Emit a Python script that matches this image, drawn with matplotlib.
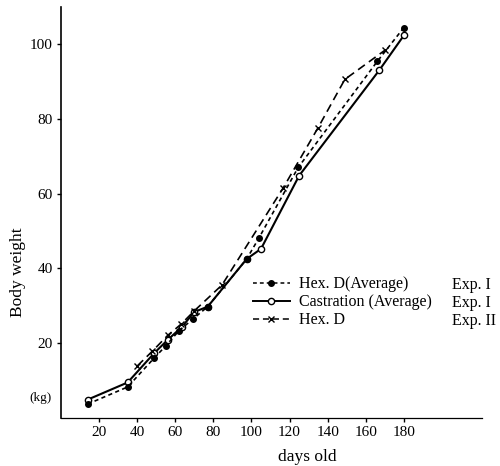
import matplotlib
matplotlib.use('Agg')
import matplotlib.pyplot as plt
from matplotlib.lines import Line2D

plt.rcParams['font.family'] = ['Liberation Serif', 'DejaVu Serif']

# Hex. D (Average)  Exp. I
hexd_days   = [14, 35, 49, 55, 62, 69.5, 77, 97.5, 104, 124.5, 166, 180]
hexd_weight = [3.6, 8.2, 16.0, 19.2, 23.3, 26.5, 29.7, 42.5, 48.2, 67.0, 95.4, 104.5]

# Castration (Average)  Exp. I
cast_days   = [14, 35, 49, 56, 63.5, 70, 77, 97.5, 105, 125, 167, 180]
cast_weight = [4.8, 9.4, 17.3, 20.8, 24.3, 28.3, 29.7, 42.5, 45.2, 64.8, 93.0, 102.4]

# Hex. D  Exp. II
exp2_days   = [40, 48, 56, 63, 70, 84.5, 116.5, 135, 149, 170]
exp2_weight = [13.8, 17.8, 22.0, 25.0, 28.6, 35.5, 61.4, 77.7, 90.6, 98.4]

xticks = [20, 40, 60, 80, 100, 120, 140, 160, 180]
yticks = [20, 40, 60, 80, 100]

fig = plt.figure(figsize=(5.0, 4.66), dpi=100)
ax = fig.add_axes([0.122, 0.104, 0.842, 0.881])

ax.plot(hexd_days, hexd_weight, color='black', lw=1.2, ls=(0, (2.5, 2)),
        marker='o', ms=4, mfc='black', mec='black', zorder=3)
ax.plot(cast_days, cast_weight, color='black', lw=1.5, ls='-',
        marker='o', ms=4.5, mfc='white', mec='black', mew=1.0, zorder=2)
ax.plot(exp2_days, exp2_weight, color='black', lw=1.2, ls=(0, (5, 3)),
        marker='x', ms=4.5, mew=1.0, zorder=2)

ax.set_xlim(0, 221)
ax.set_ylim(0, 110)
ax.set_xticks(xticks)
ax.set_yticks(yticks)
ax.tick_params(axis='both', labelsize=11, length=3, width=1, direction='out', pad=3)
for s in ['top', 'right']:
    ax.spines[s].set_visible(False)
ax.spines['left'].set_linewidth(1.2)
ax.spines['bottom'].set_linewidth(0.9)

fig.text(0.036, 0.416, 'Body weight', rotation=90, ha='center', va='center', fontsize=12.5)
fig.text(0.08, 0.146, '(kg)', ha='center', va='center', fontsize=9.5)
fig.text(0.614, 0.019, 'days old', ha='center', va='center', fontsize=12.5)

handles = [
    Line2D([], [], color='black', lw=1.1, ls=(0, (2.5, 2)), marker='o', ms=4, mfc='black'),
    Line2D([], [], color='black', lw=1.4, marker='o', ms=4.5, mfc='white'),
    Line2D([], [], color='black', lw=1.1, ls=(0, (4, 2.5)), marker='x', ms=4.5),
]
labels = ['Hex. D(Average)', 'Castration (Average)', 'Hex. D']
ax.legend(handles, labels, loc='upper left', bbox_to_anchor=(0.506, 0.407),
          bbox_transform=fig.transFigure, frameon=False, fontsize=11.5,
          handlelength=2.3, handletextpad=0.6, labelspacing=0.12,
          markerfirst=True, borderaxespad=0, borderpad=0)
for yy, t in zip([0.388, 0.350, 0.312], ['Exp. I', 'Exp. I', 'Exp. II']):
    fig.text(0.905, yy, t, ha='left', va='center', fontsize=11.5)

fig.savefig('out.png', dpi=100)
